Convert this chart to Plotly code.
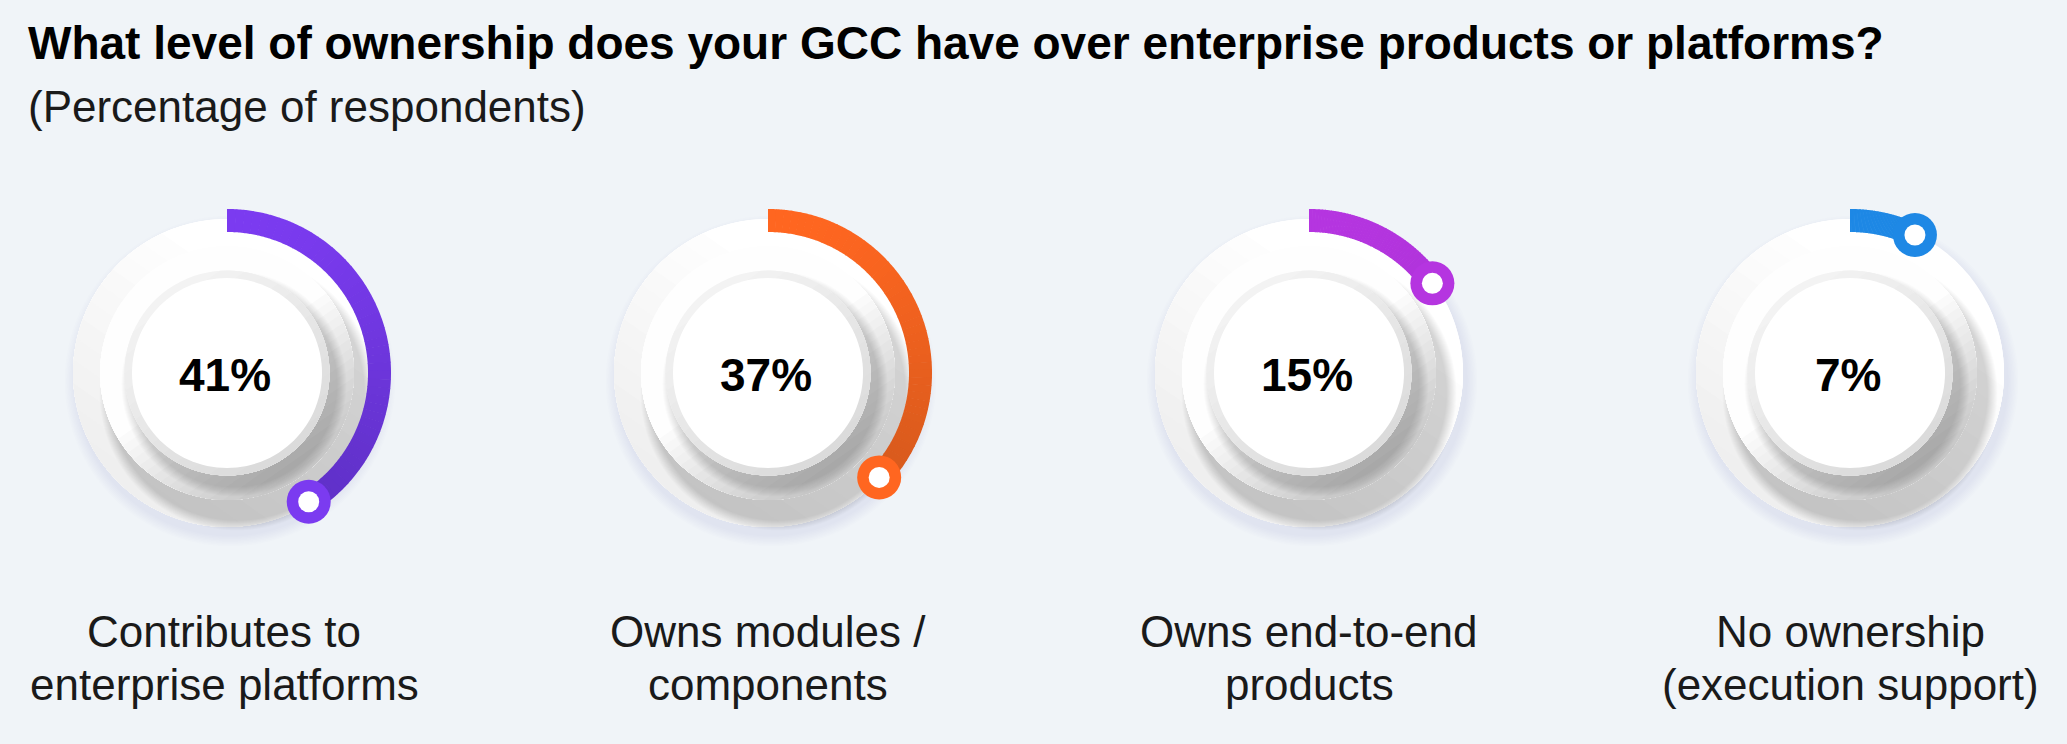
import math
import plotly.graph_objects as go

# ---------------- data ----------------
categories = [
    "Contributes to<br>enterprise platforms",
    "Owns modules /<br>components",
    "Owns end-to-end<br>products",
    "No ownership<br>(execution support)",
]
values = [41, 37, 15, 7]
value_labels = ["41%", "37%", "15%", "7%"]
arc_colors = ["#7B3BF0", "#FF6620", "#B535E0", "#1E88E5"]
arc_dark = ["#5E30C6", "#D2581C", "#9C2EC4", "#1A78CC"]
title_text = "What level of ownership does your GCC have over enterprise products or platforms?"
subtitle_text = "(Percentage of respondents)"

# ---------------- layout constants ----------------
W, H = 2067, 744
BG = "#F0F4F8"
CX0, DX, CY = 227, 541, 373
R_OUT, R_IN = 164, 141          # arc
R_DISK, R_MID, R_RING, R_CORE = 154, 127, 102.5, 95
NSEG = 48
FONT = "Liberation Sans, Arial, sans-serif"


def hex2rgb(h):
    h = h.lstrip("#")
    return tuple(int(h[i:i + 2], 16) for i in (0, 2, 4))


def lerp_col(c1, c2, t):
    t = max(0.0, min(1.0, t))
    a, b = hex2rgb(c1), hex2rgb(c2)
    return "rgb(%d,%d,%d)" % tuple(round(a[i] + (b[i] - a[i]) * t) for i in range(3))


fig = go.Figure()


def poly(xs, ys, color):
    fig.add_trace(go.Scatter(x=xs, y=ys, fill="toself", fillcolor=color, mode="none",
                             hoverinfo="skip", showlegend=False))


def disk(cx, cy, r, color, n=120):
    angs = [2 * math.pi * j / n for j in range(n + 1)]
    poly([cx + r * math.cos(a) for a in angs], [cy + r * math.sin(a) for a in angs], color)


def grad_disk(cx, cy, r, ang_deg, color_fn, nb=28):
    """Disk with a linear gradient along direction ang_deg (screen coords, y down)."""
    ux, uy = math.cos(math.radians(ang_deg)), math.sin(math.radians(ang_deg))
    wx, wy = -uy, ux
    for k in range(nb):
        s0 = -r + 2 * r * k / nb
        alpha = math.acos(max(-1.0, min(1.0, s0 / r)))
        n = max(8, int(90 * alpha / math.pi))
        th = [-alpha + 2 * alpha * j / n for j in range(n + 1)]
        xs = [cx + r * math.cos(t) * ux + r * math.sin(t) * wx for t in th]
        ys = [cy + r * math.cos(t) * uy + r * math.sin(t) * wy for t in th]
        poly(xs, ys, color_fn((k + 0.5) / nb))


annotations = []

for i, (cat, v) in enumerate(zip(categories, values)):
    cx = CX0 + i * DX
    cy = CY

    # soft shadow of the outer disk on the background
    for k in range(8, 0, -1):
        disk(cx + 3, cy + 8, R_DISK + k * 1.4, "rgba(140,150,165,0.016)")
    # outer disk (very light, a touch darker to the lower-left)
    grad_disk(cx, cy, R_DISK, 125, lambda t: lerp_col("#FFFFFF", "#EEEEEE", (t - 0.2) / 0.8), nb=16)
    # drop shadow of the middle disk on the outer disk
    for k in range(11, 0, -1):
        disk(cx + 10, cy + 20, R_MID + k * 0.95, "rgba(0,0,0,0.014)")
    # middle disk: white upper-left, grey lower-right
    grad_disk(cx, cy, R_MID, 55, lambda t: lerp_col("#FEFEFE", "#C4C4C4", (t - 0.45) / 0.55), nb=30)
    # shadow of the inner ring on the middle disk
    for k in range(10, 0, -1):
        disk(cx + 7, cy + 11, R_RING + k * 1.0, "rgba(0,0,0,0.016)")
    # inner ring
    grad_disk(cx, cy, R_RING, 55, lambda t: lerp_col("#F4F4F4", "#DADADA", t), nb=14)
    # inner white core
    disk(cx, cy, R_CORE, "#FFFFFF")

    # ----- progress arc (clockwise from 12 o'clock) -----
    total = 2 * math.pi * v / 100.0
    for s in range(NSEG):
        a0 = total * s / NSEG
        a1 = min(total, total * (s + 1) / NSEG + 0.004)
        am = (a0 + a1) / 2
        t = (1 - math.cos(am)) / 2
        col = lerp_col(arc_colors[i], arc_dark[i], t * 1.05)
        n = 6
        angs = [a0 + (a1 - a0) * j / n for j in range(n + 1)]
        xs = [cx + R_OUT * math.sin(a) for a in angs] + [cx + R_IN * math.sin(a) for a in reversed(angs)]
        ys = [cy - R_OUT * math.cos(a) for a in angs] + [cy - R_IN * math.cos(a) for a in reversed(angs)]
        poly(xs, ys, col)
    # end knob
    rm = (R_OUT + R_IN) / 2
    ex = cx + rm * math.sin(total)
    ey = cy - rm * math.cos(total)
    fig.add_trace(go.Scatter(x=[ex], y=[ey], mode="markers",
                             marker=dict(size=44, color=arc_colors[i], line=dict(width=0)),
                             hoverinfo="skip", showlegend=False))
    fig.add_trace(go.Scatter(x=[ex], y=[ey], mode="markers",
                             marker=dict(size=21, color="#FFFFFF", line=dict(width=0)),
                             hovertemplate=cat.replace("<br>", " ") + ": %d%%<extra></extra>" % v,
                             showlegend=False))

    # value text
    annotations.append(dict(x=cx - 2, y=cy + 2, xref="x", yref="y", text="<b>%s</b>" % value_labels[i],
                            showarrow=False, xanchor="center", yanchor="middle",
                            font=dict(family=FONT, size=46, color="#000000")))
    # category label, one annotation per line
    lab_x = cx - 3 if i == 0 else cx
    for j, line in enumerate(cat.split("<br>")):
        annotations.append(dict(x=lab_x, y=631 + j * 53, xref="x", yref="y", text=line,
                                showarrow=False, xanchor="center", yanchor="middle",
                                font=dict(family=FONT, size=44, color="#1A1A1A")))

annotations.append(dict(x=26, y=43, xref="x", yref="y", text="<b>%s</b>" % title_text,
                        showarrow=False, xanchor="left", yanchor="middle",
                        font=dict(family=FONT, size=46, color="#000000")))
annotations.append(dict(x=26, y=106, xref="x", yref="y", text=subtitle_text,
                        showarrow=False, xanchor="left", yanchor="middle",
                        font=dict(family=FONT, size=44, color="#1A1A1A")))

fig.update_layout(
    width=W, height=H,
    margin=dict(l=0, r=0, t=0, b=0),
    paper_bgcolor=BG, plot_bgcolor=BG,
    xaxis=dict(range=[0, W], visible=False, fixedrange=True),
    yaxis=dict(range=[H, 0], visible=False, fixedrange=True),
    annotations=annotations,
    showlegend=False,
)

fig.write_html("out.html")
